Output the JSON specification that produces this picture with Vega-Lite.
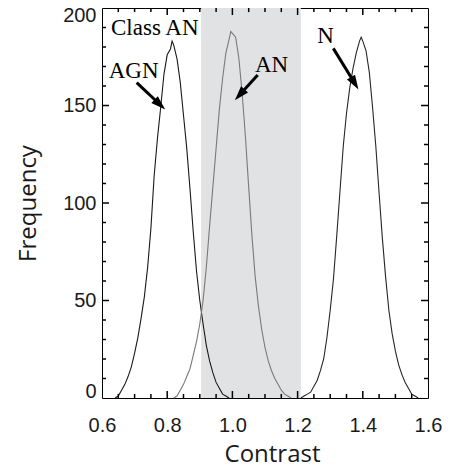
{
  "$schema": "https://vega.github.io/schema/vega-lite/v6.json",
  "width": 326,
  "height": 390,
  "autosize": {"type": "none"},
  "padding": {"left": 102, "top": 8, "right": 22, "bottom": 78},
  "background": "white",
  "config": {
    "view": {"stroke": "black", "strokeWidth": 1},
    "axis": {"domain": false, "ticks": false, "tickSize": 0, "grid": false, "zindex": 2, "labelFont": "Liberation Sans", "labelFontSize": 20, "labelColor": "#1a1a1a", "titleFont": "Open Sans", "titleFontSize": 24, "titleFontWeight": "normal", "titleColor": "#1a1a1a", "labelFlush": false}
  },
  "datasets": {
    "hist": [
      {"s": "AGN", "x": 0.64, "f": 0}, {"s": "AGN", "x": 0.65, "f": 1}, {"s": "AGN", "x": 0.66, "f": 4}, {"s": "AGN", "x": 0.67, "f": 7}, {"s": "AGN", "x": 0.68, "f": 11}, {"s": "AGN", "x": 0.69, "f": 16}, {"s": "AGN", "x": 0.70, "f": 23}, {"s": "AGN", "x": 0.71, "f": 31}, {"s": "AGN", "x": 0.72, "f": 41}, {"s": "AGN", "x": 0.73, "f": 52}, {"s": "AGN", "x": 0.74, "f": 67}, {"s": "AGN", "x": 0.75, "f": 87}, {"s": "AGN", "x": 0.76, "f": 114}, {"s": "AGN", "x": 0.77, "f": 133}, {"s": "AGN", "x": 0.78, "f": 149}, {"s": "AGN", "x": 0.79, "f": 166}, {"s": "AGN", "x": 0.80, "f": 176}, {"s": "AGN", "x": 0.81, "f": 179}, {"s": "AGN", "x": 0.815, "f": 183}, {"s": "AGN", "x": 0.82, "f": 181}, {"s": "AGN", "x": 0.83, "f": 174}, {"s": "AGN", "x": 0.84, "f": 162}, {"s": "AGN", "x": 0.85, "f": 145}, {"s": "AGN", "x": 0.86, "f": 128}, {"s": "AGN", "x": 0.87, "f": 107}, {"s": "AGN", "x": 0.88, "f": 85}, {"s": "AGN", "x": 0.89, "f": 65}, {"s": "AGN", "x": 0.90, "f": 50}, {"s": "AGN", "x": 0.91, "f": 38}, {"s": "AGN", "x": 0.92, "f": 27}, {"s": "AGN", "x": 0.93, "f": 19}, {"s": "AGN", "x": 0.94, "f": 13}, {"s": "AGN", "x": 0.95, "f": 8}, {"s": "AGN", "x": 0.96, "f": 5}, {"s": "AGN", "x": 0.97, "f": 2}, {"s": "AGN", "x": 0.98, "f": 1}, {"s": "AGN", "x": 0.99, "f": 0},
      {"s": "AN", "x": 0.82, "f": 0}, {"s": "AN", "x": 0.83, "f": 1}, {"s": "AN", "x": 0.84, "f": 4}, {"s": "AN", "x": 0.85, "f": 7}, {"s": "AN", "x": 0.86, "f": 11}, {"s": "AN", "x": 0.87, "f": 15}, {"s": "AN", "x": 0.88, "f": 22}, {"s": "AN", "x": 0.89, "f": 29}, {"s": "AN", "x": 0.90, "f": 38}, {"s": "AN", "x": 0.91, "f": 50}, {"s": "AN", "x": 0.92, "f": 67}, {"s": "AN", "x": 0.93, "f": 88}, {"s": "AN", "x": 0.94, "f": 108}, {"s": "AN", "x": 0.95, "f": 128}, {"s": "AN", "x": 0.96, "f": 148}, {"s": "AN", "x": 0.97, "f": 164}, {"s": "AN", "x": 0.98, "f": 177}, {"s": "AN", "x": 0.99, "f": 184}, {"s": "AN", "x": 0.995, "f": 188}, {"s": "AN", "x": 1.00, "f": 187}, {"s": "AN", "x": 1.01, "f": 185}, {"s": "AN", "x": 1.02, "f": 174}, {"s": "AN", "x": 1.03, "f": 156}, {"s": "AN", "x": 1.04, "f": 134}, {"s": "AN", "x": 1.05, "f": 108}, {"s": "AN", "x": 1.06, "f": 83}, {"s": "AN", "x": 1.07, "f": 62}, {"s": "AN", "x": 1.08, "f": 47}, {"s": "AN", "x": 1.09, "f": 35}, {"s": "AN", "x": 1.10, "f": 26}, {"s": "AN", "x": 1.11, "f": 19}, {"s": "AN", "x": 1.12, "f": 14}, {"s": "AN", "x": 1.13, "f": 10}, {"s": "AN", "x": 1.14, "f": 7}, {"s": "AN", "x": 1.15, "f": 4}, {"s": "AN", "x": 1.16, "f": 2}, {"s": "AN", "x": 1.17, "f": 1}, {"s": "AN", "x": 1.18, "f": 0},
      {"s": "N", "x": 1.21, "f": 0}, {"s": "N", "x": 1.22, "f": 1}, {"s": "N", "x": 1.23, "f": 2}, {"s": "N", "x": 1.24, "f": 3}, {"s": "N", "x": 1.25, "f": 6}, {"s": "N", "x": 1.26, "f": 9}, {"s": "N", "x": 1.27, "f": 14}, {"s": "N", "x": 1.28, "f": 20}, {"s": "N", "x": 1.29, "f": 31}, {"s": "N", "x": 1.30, "f": 45}, {"s": "N", "x": 1.31, "f": 61}, {"s": "N", "x": 1.32, "f": 83}, {"s": "N", "x": 1.33, "f": 106}, {"s": "N", "x": 1.34, "f": 129}, {"s": "N", "x": 1.35, "f": 146}, {"s": "N", "x": 1.36, "f": 159}, {"s": "N", "x": 1.37, "f": 169}, {"s": "N", "x": 1.38, "f": 177}, {"s": "N", "x": 1.39, "f": 183}, {"s": "N", "x": 1.395, "f": 185}, {"s": "N", "x": 1.40, "f": 183}, {"s": "N", "x": 1.41, "f": 178}, {"s": "N", "x": 1.42, "f": 167}, {"s": "N", "x": 1.43, "f": 149}, {"s": "N", "x": 1.44, "f": 129}, {"s": "N", "x": 1.45, "f": 105}, {"s": "N", "x": 1.46, "f": 82}, {"s": "N", "x": 1.47, "f": 62}, {"s": "N", "x": 1.48, "f": 45}, {"s": "N", "x": 1.49, "f": 33}, {"s": "N", "x": 1.50, "f": 24}, {"s": "N", "x": 1.51, "f": 17}, {"s": "N", "x": 1.52, "f": 12}, {"s": "N", "x": 1.53, "f": 8}, {"s": "N", "x": 1.54, "f": 5}, {"s": "N", "x": 1.55, "f": 2}, {"s": "N", "x": 1.56, "f": 1}, {"s": "N", "x": 1.57, "f": 0}
    ],
    "shade": [{"x0": 0.904, "x1": 1.21}],
    "xmajor": [{"v": 0.8}, {"v": 1.0}, {"v": 1.2}, {"v": 1.4}],
    "xminor": [{"v": 0.65}, {"v": 0.7}, {"v": 0.75}, {"v": 0.85}, {"v": 0.9}, {"v": 0.95}, {"v": 1.05}, {"v": 1.1}, {"v": 1.15}, {"v": 1.25}, {"v": 1.3}, {"v": 1.35}, {"v": 1.45}, {"v": 1.5}, {"v": 1.55}],
    "ymajor": [{"v": 50}, {"v": 100}, {"v": 150}],
    "yminor": [{"v": 10}, {"v": 20}, {"v": 30}, {"v": 40}, {"v": 60}, {"v": 70}, {"v": 80}, {"v": 90}, {"v": 110}, {"v": 120}, {"v": 130}, {"v": 140}, {"v": 160}, {"v": 170}, {"v": 180}, {"v": 190}],
    "arrows": [
      {"name": "AGN", "tx": 0.7064, "ty": 161.7, "hx": 0.7776, "hy": 150.5, "angle": 133},
      {"name": "AN", "tx": 1.0776, "ty": 165.6, "hx": 1.0224, "hy": 155.5, "angle": 222},
      {"name": "N", "tx": 1.3095, "ty": 179.3, "hx": 1.3752, "hy": 161.4, "angle": 149}
    ],
    "labels": [
      {"t": "Class AN", "x": 0.6276, "y": 189.8},
      {"t": "AGN", "x": 0.6206, "y": 167.6},
      {"t": "AN", "x": 1.0693, "y": 170.9},
      {"t": "N", "x": 1.2604, "y": 185.5}
    ]
  },
  "layer": [
    {
      "data": {"name": "shade"},
      "mark": {"type": "rect", "color": "#e1e2e4", "strokeWidth": 0},
      "encoding": {
        "x": {"field": "x0", "type": "quantitative", "scale": {"domain": [0.6, 1.6], "nice": false, "zero": false}, "axis": null},
        "x2": {"field": "x1"}
      }
    },
    {
      "data": {"name": "hist"},
      "mark": {"type": "line", "strokeWidth": 1.1, "interpolate": "linear"},
      "encoding": {
        "x": {"field": "x", "type": "quantitative", "scale": {"domain": [0.6, 1.6], "nice": false, "zero": false},
          "axis": {"orient": "bottom", "values": [0.6, 0.8, 1.0, 1.2, 1.4, 1.6], "format": ".1f", "labelPadding": 17, "labelFlush": false, "title": "Contrast", "titleX": 170, "titleY": 56, "titleBaseline": "middle", "titleAlign": "center"}},
        "y": {"field": "f", "type": "quantitative", "scale": {"domain": [0, 200], "nice": false},
          "axis": {"orient": "left", "values": [0, 50, 100, 150, 200], "labelPadding": 6, "labelFlush": true, "labelFlushOffset": 3, "title": "Frequency", "titleX": -74, "titleY": 195, "titleAngle": -90, "titleBaseline": "middle", "titleAlign": "center"}},
        "color": {"field": "s", "type": "nominal", "scale": {"domain": ["AGN", "AN", "N"], "range": ["#1a1a1a", "#7a7a7a", "#262626"]}, "legend": null}
      }
    },
    {
      "data": {"name": "xmajor"},
      "mark": {"type": "rule", "color": "black", "strokeWidth": 1.5},
      "encoding": {
        "x": {"field": "v", "type": "quantitative", "axis": null},
        "y": {"datum": 0, "type": "quantitative", "axis": null},
        "y2": {"datum": 3.6}
      }
    },
    {
      "data": {"name": "xmajor"},
      "mark": {"type": "rule", "color": "black", "strokeWidth": 1.5},
      "encoding": {
        "x": {"field": "v", "type": "quantitative", "axis": null},
        "y": {"datum": 200, "type": "quantitative", "axis": null},
        "y2": {"datum": 196.4}
      }
    },
    {
      "data": {"name": "xminor"},
      "mark": {"type": "rule", "color": "black", "strokeWidth": 1.5},
      "encoding": {
        "x": {"field": "v", "type": "quantitative", "axis": null},
        "y": {"datum": 0, "type": "quantitative", "axis": null},
        "y2": {"datum": 2.1}
      }
    },
    {
      "data": {"name": "xminor"},
      "mark": {"type": "rule", "color": "black", "strokeWidth": 1.5},
      "encoding": {
        "x": {"field": "v", "type": "quantitative", "axis": null},
        "y": {"datum": 200, "type": "quantitative", "axis": null},
        "y2": {"datum": 197.9}
      }
    },
    {
      "data": {"name": "ymajor"},
      "mark": {"type": "rule", "color": "black", "strokeWidth": 1.5},
      "encoding": {
        "y": {"field": "v", "type": "quantitative", "axis": null},
        "x": {"datum": 0.6, "type": "quantitative", "axis": null},
        "x2": {"datum": 0.6215}
      }
    },
    {
      "data": {"name": "ymajor"},
      "mark": {"type": "rule", "color": "black", "strokeWidth": 1.5},
      "encoding": {
        "y": {"field": "v", "type": "quantitative", "axis": null},
        "x": {"datum": 1.6, "type": "quantitative", "axis": null},
        "x2": {"datum": 1.5785}
      }
    },
    {
      "data": {"name": "yminor"},
      "mark": {"type": "rule", "color": "black", "strokeWidth": 1.5},
      "encoding": {
        "y": {"field": "v", "type": "quantitative", "axis": null},
        "x": {"datum": 0.6, "type": "quantitative", "axis": null},
        "x2": {"datum": 0.6123}
      }
    },
    {
      "data": {"name": "yminor"},
      "mark": {"type": "rule", "color": "black", "strokeWidth": 1.5},
      "encoding": {
        "y": {"field": "v", "type": "quantitative", "axis": null},
        "x": {"datum": 1.6, "type": "quantitative", "axis": null},
        "x2": {"datum": 1.5877}
      }
    },
    {
      "data": {"name": "arrows"},
      "mark": {"type": "rule", "color": "black", "strokeWidth": 3},
      "encoding": {
        "x": {"field": "tx", "type": "quantitative", "axis": null},
        "y": {"field": "ty", "type": "quantitative", "axis": null},
        "x2": {"field": "hx"},
        "y2": {"field": "hy"}
      }
    },
    {
      "data": {"name": "arrows"},
      "mark": {"type": "point", "shape": "M0,-1L0.65,1L-0.65,1Z", "filled": true, "color": "black", "opacity": 1, "size": 210},
      "encoding": {
        "x": {"field": "hx", "type": "quantitative", "axis": null},
        "y": {"field": "hy", "type": "quantitative", "axis": null},
        "angle": {"field": "angle", "type": "quantitative", "scale": null}
      }
    },
    {
      "data": {"name": "labels"},
      "mark": {"type": "text", "font": "Liberation Serif", "fontSize": 23, "align": "left", "baseline": "middle", "color": "black"},
      "encoding": {
        "x": {"field": "x", "type": "quantitative", "axis": null},
        "y": {"field": "y", "type": "quantitative", "axis": null},
        "text": {"field": "t"}
      }
    }
  ],
  "resolve": {"axis": {"x": "independent", "y": "independent"}}
}
